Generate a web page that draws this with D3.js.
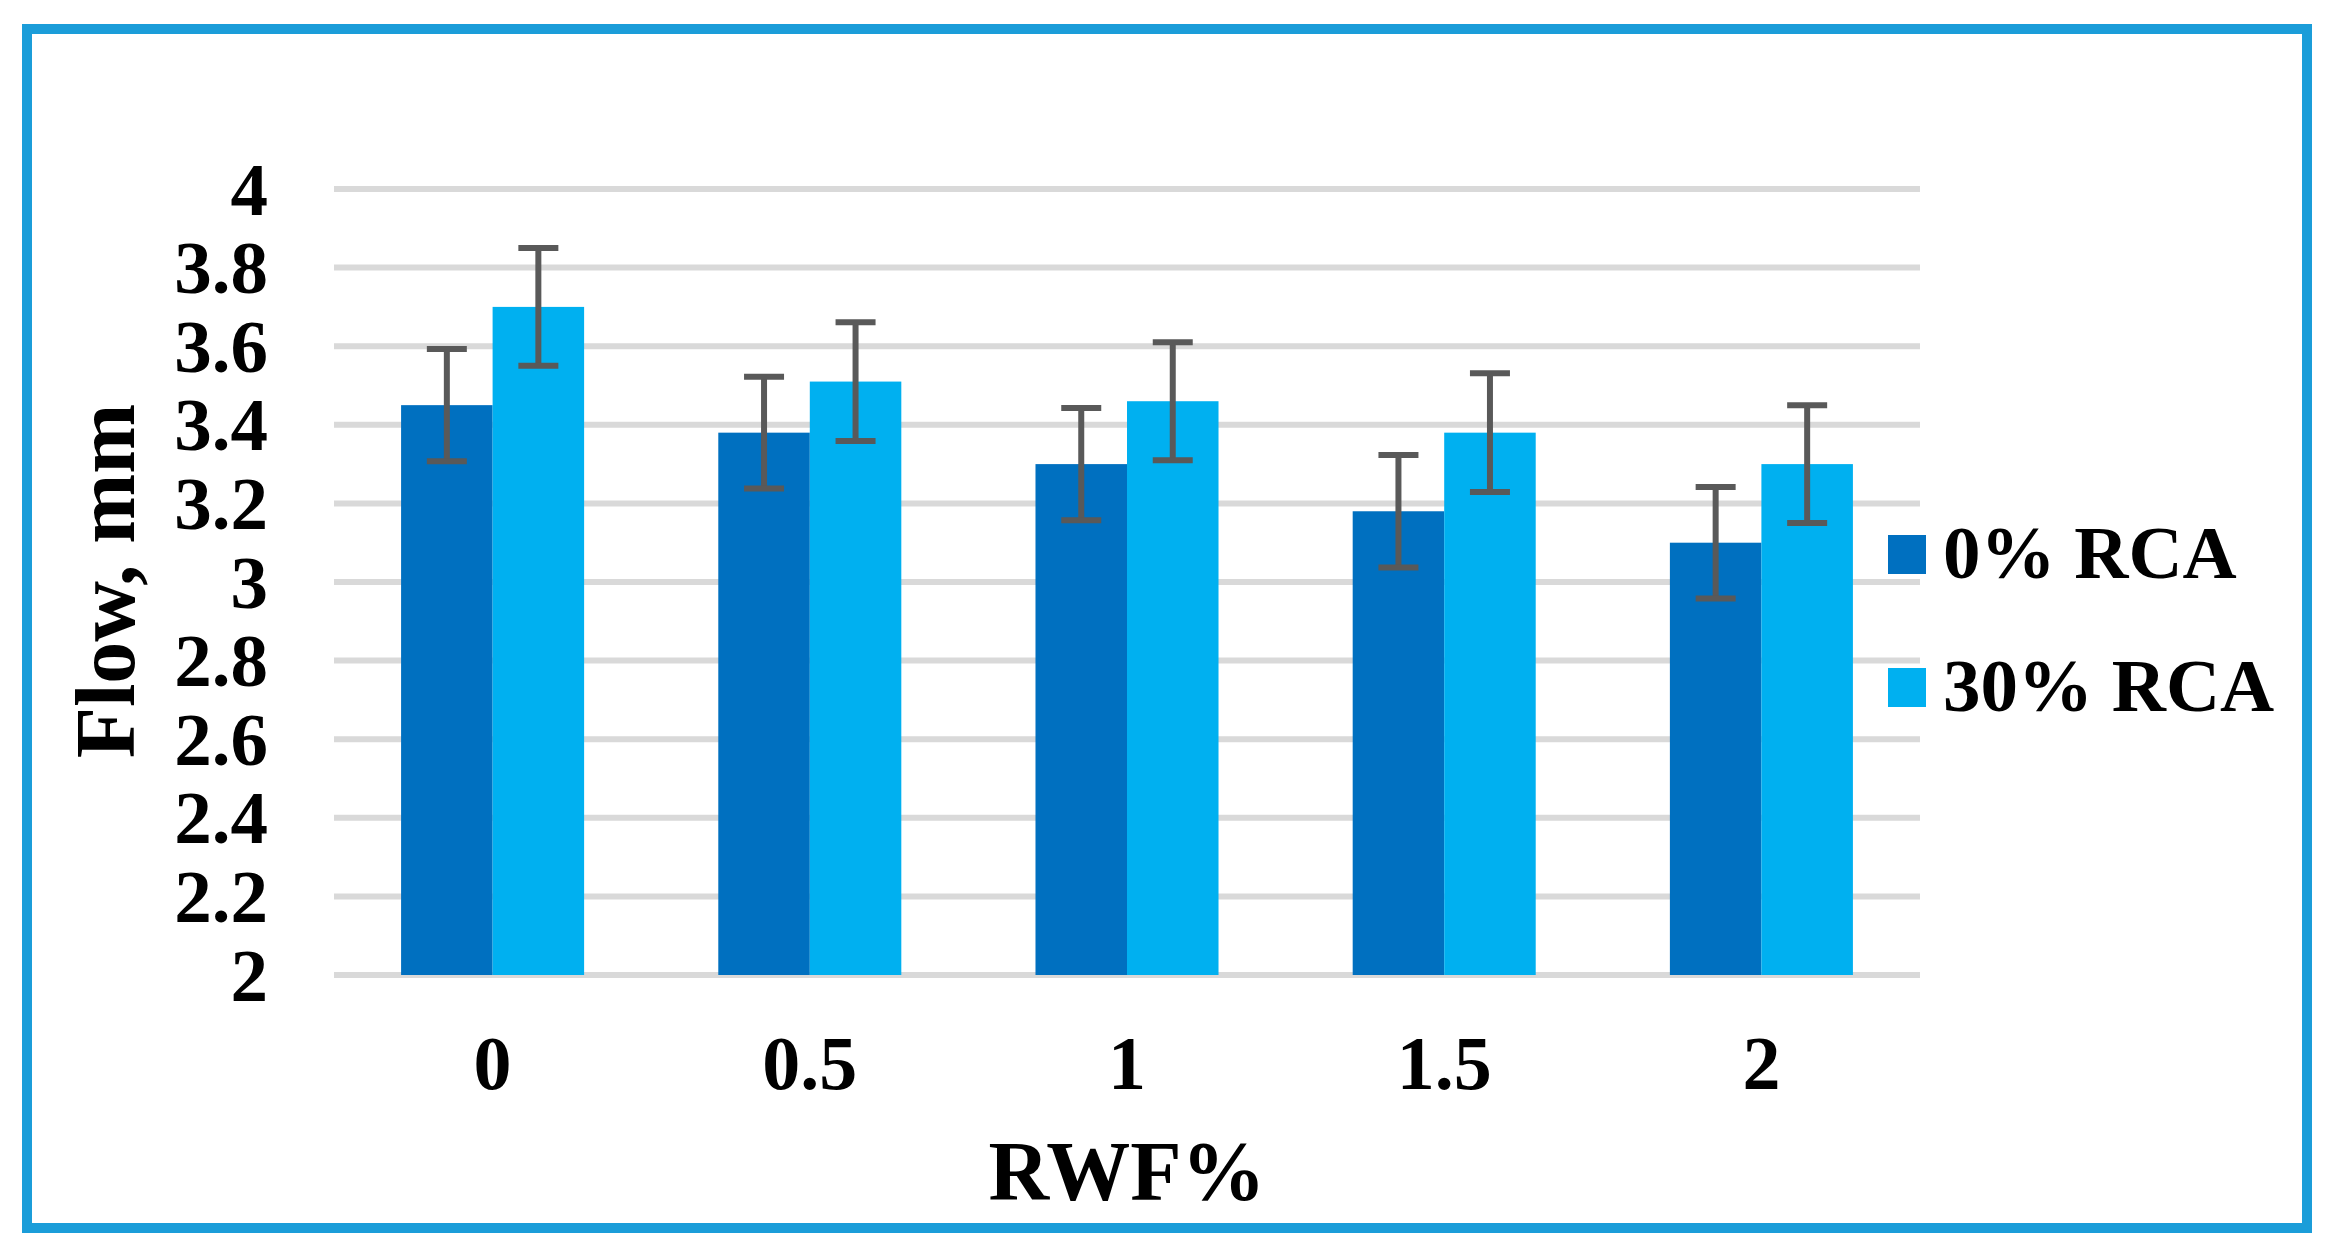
<!DOCTYPE html>
<html>
<head>
<meta charset="utf-8">
<script src="https://cdn.jsdelivr.net/npm/d3@7"></script>
<style>
  body { margin: 0; background: #fff; }
  text { font-family: "Liberation Serif", "Times New Roman", serif; font-weight: bold; fill: #000; }
</style>
</head>
<body>
<svg id="chart" width="2331" height="1255"></svg>
<script>
// data
var categories = ["0", "0.5", "1", "1.5", "2"];
var seriesNames = ["0% RCA", "30% RCA"];
var rca0 = [3.45, 3.38, 3.30, 3.18, 3.10];
var rca30 = [3.70, 3.51, 3.46, 3.38, 3.30];
var err0 = [0.143, 0.142, 0.143, 0.143, 0.142];
var err30 = [0.15, 0.151, 0.15, 0.151, 0.15];
var yTicks = [2, 2.2, 2.4, 2.6, 2.8, 3, 3.2, 3.4, 3.6, 3.8, 4];

var colors = ["#0070c0", "#00b0f0"];
var values = [rca0, rca30];
var errors = [err0, err30];

var svg = d3.select("#chart");

svg.append("rect")
    .attr("width", 2331).attr("height", 1255).attr("fill", "#fff");

// outer blue frame
svg.append("rect")
    .attr("x", 27).attr("y", 29)
    .attr("width", 2280).attr("height", 1199)
    .attr("fill", "none")
    .attr("stroke", "#1b9dd9")
    .attr("stroke-width", 10);

var plotLeft = 334, plotRight = 1920, plotTop = 189, plotBottom = 975;

var x0 = d3.scaleBand()
    .domain(categories)
    .range([plotLeft, plotRight])
    .paddingInner(0.423)
    .paddingOuter(0.2115);

var x1 = d3.scaleBand()
    .domain(seriesNames)
    .range([0, x0.bandwidth()]);

var y = d3.scaleLinear()
    .domain([2, 4])
    .range([plotBottom, plotTop]);

// gridlines
svg.append("g").selectAll("line")
  .data(yTicks)
  .enter().append("line")
    .attr("x1", plotLeft).attr("x2", plotRight)
    .attr("y1", function(d) { return y(d); })
    .attr("y2", function(d) { return y(d); })
    .attr("stroke", "#d9d9d9")
    .attr("stroke-width", 6);

// y axis labels
svg.append("g").selectAll("text")
  .data(yTicks)
  .enter().append("text")
    .attr("x", 268)
    .attr("y", function(d) { return y(d); })
    .attr("dy", "0.34em")
    .attr("text-anchor", "end")
    .attr("font-size", 75)
    .text(function(d) { return d3.format("~g")(d); });

// bars
seriesNames.forEach(function(name, s) {
  svg.append("g").selectAll("rect")
    .data(values[s])
    .enter().append("rect")
      .attr("x", function(d, i) { return x0(categories[i]) + x1(name); })
      .attr("y", function(d) { return y(d); })
      .attr("width", x1.bandwidth())
      .attr("height", function(d) { return y(2) - y(d); })
      .attr("fill", colors[s]);
});

// error bars
seriesNames.forEach(function(name, s) {
  var g = svg.append("g").attr("stroke", "#595959").attr("stroke-width", 6);
  values[s].forEach(function(v, i) {
    var cx = x0(categories[i]) + x1(name) + x1.bandwidth() / 2;
    var hi = y(v + errors[s][i]), lo = y(v - errors[s][i]);
    g.append("line").attr("x1", cx).attr("x2", cx).attr("y1", hi).attr("y2", lo);
    g.append("line").attr("x1", cx - 20).attr("x2", cx + 20).attr("y1", hi).attr("y2", hi);
    g.append("line").attr("x1", cx - 20).attr("x2", cx + 20).attr("y1", lo).attr("y2", lo);
  });
});

// x axis labels
svg.append("g").selectAll("text")
  .data(categories)
  .enter().append("text")
    .attr("x", function(d) { return x0(d) + x0.bandwidth() / 2; })
    .attr("y", 1089)
    .attr("text-anchor", "middle")
    .attr("font-size", 76)
    .text(function(d) { return d; });

// axis titles
svg.append("text")
    .attr("x", (plotLeft + plotRight) / 2)
    .attr("y", 1200)
    .attr("text-anchor", "middle")
    .attr("font-size", 84)
    .text("RWF%");

svg.append("text")
    .attr("transform", "translate(134,581) rotate(-90)")
    .attr("text-anchor", "middle")
    .attr("font-size", 84)
    .text("Flow, mm");

// legend
var legend = svg.append("g").selectAll("g")
  .data(seriesNames)
  .enter().append("g")
    .attr("transform", function(d, i) { return "translate(1888," + (535 + i * 133) + ")"; });

legend.append("rect")
    .attr("width", 38).attr("height", 39)
    .attr("fill", function(d, i) { return colors[i]; });

legend.append("text")
    .attr("x", 55).attr("y", 43)
    .attr("font-size", 75)
    .text(function(d) { return d; });
</script>
</body>
</html>
